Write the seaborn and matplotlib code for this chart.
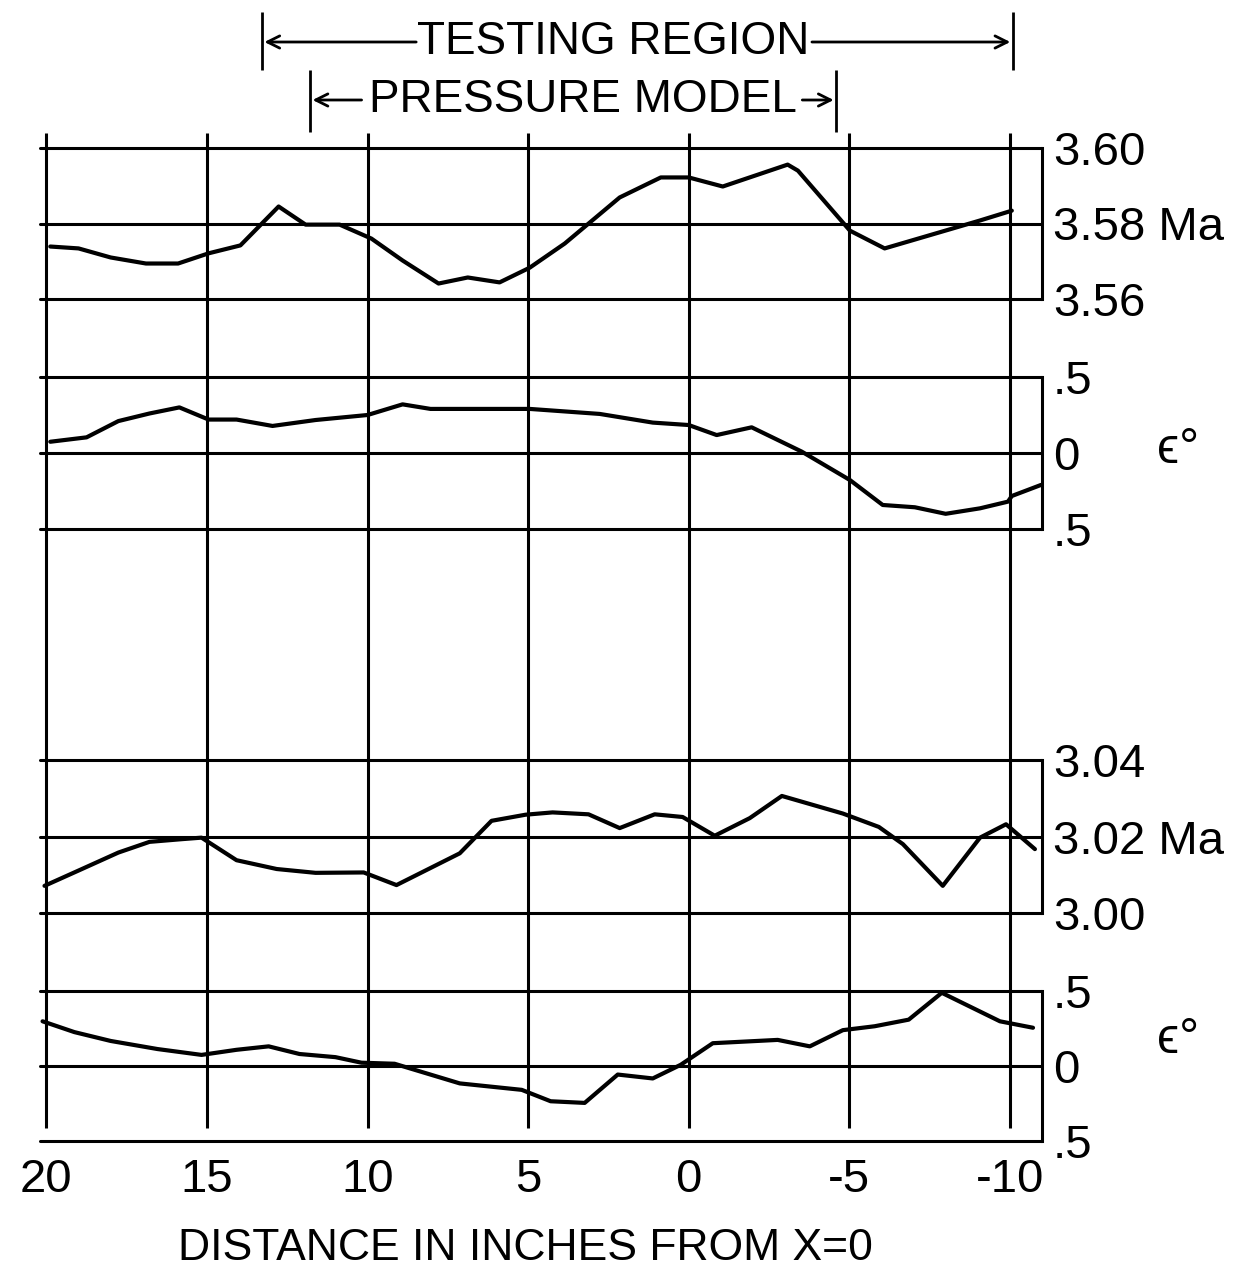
import matplotlib
matplotlib.use("Agg")
import matplotlib.pyplot as plt
import seaborn as sns

# upper run: Mach number vs distance (inches from x=0)
ma_hi_x = [19.88, 19.0, 18.0, 16.9, 15.9, 14.95, 13.96, 12.77, 11.93, 10.87, 9.88, 8.91,
           7.79, 6.88, 5.89, 4.95, 3.86, 2.15, 0.87, 0.0, -1.06, -3.08, -3.4, -5.02,
           -6.1, -9.07, -10.06]
ma_hi = [3.5739, 3.5734, 3.5710, 3.5694, 3.5694, 3.5721, 3.5742, 3.5845, 3.5797, 3.5797,
         3.5760, 3.5702, 3.5641, 3.5657, 3.5644, 3.5683, 3.5747, 3.5869, 3.5922, 3.5922,
         3.5898, 3.5956, 3.5940, 3.5781, 3.5734, 3.5808, 3.5834]

# upper run: flow angle epsilon (deg)
eps_hi_x = [19.88, 18.75, 17.76, 16.79, 15.86, 14.95, 14.08, 12.96, 11.62, 10.0, 8.91,
            8.04, 5.83, 4.95, 2.77, 1.12, 0.0, -0.87, -1.96, -3.52, -5.02, -6.04, -7.04,
            -8.0, -9.07, -9.94, -10.06, -10.97]
eps_hi = [0.074, 0.103, 0.21, 0.26, 0.30, 0.22, 0.22, 0.178, 0.217, 0.25, 0.32, 0.29,
          0.29, 0.29, 0.257, 0.20, 0.184, 0.118, 0.169, 0.009, -0.178, -0.342, -0.357,
          -0.40, -0.364, -0.32, -0.283, -0.21]

# lower run: Mach number
ma_lo_x = [20.06, 19.0, 17.76, 16.79, 15.79, 15.17, 14.08, 12.83, 11.62, 10.12, 9.1, 7.13,
           6.14, 5.08, 4.24, 3.12, 2.15, 1.06, 0.19, -0.81, -1.9, -2.9, -4.8, -5.92,
           -6.67, -7.91, -9.07, -9.88, -10.78]
ma_lo = [3.0071, 3.0111, 3.0158, 3.0186, 3.0193, 3.0197, 3.0138, 3.0115, 3.0105, 3.0106,
         3.0073, 3.0156, 3.0241, 3.0257, 3.0263, 3.0258, 3.0222, 3.0258, 3.0251, 3.0202,
         3.0248, 3.0306, 3.0260, 3.0225, 3.0180, 3.0071, 3.0197, 3.0232, 3.0167]

# lower run: flow angle epsilon (deg)
eps_lo_x = [20.12, 19.13, 18.0, 16.54, 15.17, 14.08, 13.08, 12.12, 11.0, 10.19, 9.16,
            7.13, 5.2, 4.3, 3.24, 2.21, 1.12, 0.25, -0.75, -2.77, -3.77, -4.8, -5.79,
            -6.85, -7.88, -9.69, -10.72]
eps_lo = [0.298, 0.226, 0.167, 0.113, 0.074, 0.108, 0.131, 0.08, 0.059, 0.022, 0.015,
          -0.116, -0.159, -0.235, -0.246, -0.057, -0.083, 0.008, 0.152, 0.174, 0.131,
          0.239, 0.265, 0.309, 0.488, 0.298, 0.255]

dist_ticks = [20, 15, 10, 5, 0, -5, -10]
dist_labels = ["20", "15", "10", "5", "0", "-5", "-10"]
ma_hi_ticks = [3.56, 3.58, 3.60]
ma_hi_labels = ["3.56", "3.58 Ma", "3.60"]
ma_lo_ticks = [3.00, 3.02, 3.04]
ma_lo_labels = ["3.00", "3.02 Ma", "3.04"]
eps_ticks = [-0.5, 0.0, 0.5]
eps_labels = [".5", "0", ".5"]

testing_region = (13.3, -10.1)
pressure_model = (11.8, -4.6)

sns.set_style("white")
plt.rcParams["font.family"] = ["Liberation Sans", "DejaVu Sans"]
plt.rcParams["text.color"] = "black"
plt.rcParams["xtick.color"] = "black"
plt.rcParams["ytick.color"] = "black"
plt.rcParams["axes.labelcolor"] = "black"

W, H = 1234, 1275
fig = plt.figure(figsize=(W / 100, H / 100), dpi=100)
XL = (20.2, -11.0)
left, right = 40, 1042
ax_l, ax_w = left / W, (right - left) / W
LW = 2.2

# background layer: vertical grid + region brackets (y in pixels)
bg = fig.add_axes([ax_l, 0, ax_w, 1])
bg.set_xlim(XL)
bg.set_ylim(H, 0)
bg.axis("off")
bg.vlines(dist_ticks, 133, 1128, color="black", lw=LW)

arrow = dict(arrowstyle="->", lw=2, color="black", mutation_scale=22)
bg.vlines(testing_region, 12, 70, color="black", lw=2)
bg.annotate("", xy=(testing_region[0], 42), xytext=(8.4, 42), arrowprops=arrow)
bg.annotate("", xy=(testing_region[1], 42), xytext=(-3.75, 42), arrowprops=arrow)
bg.text(2.35, 42, "TESTING REGION", fontsize=33, ha="center", va="center")
bg.vlines(pressure_model, 70, 132, color="black", lw=2)
bg.annotate("", xy=(pressure_model[0], 100), xytext=(10.1, 100), arrowprops=arrow)
bg.annotate("", xy=(pressure_model[1], 100), xytext=(-3.45, 100), arrowprops=arrow)
bg.text(3.3, 100, "PRESSURE MODEL", fontsize=33, ha="center", va="center")

panels = [
    (148, 299, ma_hi_x, ma_hi, ma_hi_ticks, ma_hi_labels),
    (377, 529, eps_hi_x, eps_hi, eps_ticks, eps_labels),
    (760, 913, ma_lo_x, ma_lo, ma_lo_ticks, ma_lo_labels),
    (991, 1141, eps_lo_x, eps_lo, eps_ticks, eps_labels),
]

axes = []
for top, bot, xs, ys, ticks, labels in panels:
    ax = fig.add_axes([ax_l, 1 - bot / H, ax_w, (bot - top) / H])
    ax.patch.set_alpha(0)
    sns.lineplot(x=xs, y=ys, ax=ax, color="black", lw=3, sort=False)
    ax.set_xlim(XL)
    ax.set_ylim(ticks[0], ticks[-1])
    ax.yaxis.tick_right()
    ax.set_yticks(ticks)
    ax.set_yticklabels(labels)
    ax.tick_params(axis="y", length=0, pad=8, labelsize=34)
    ax.grid(axis="y", color="black", lw=LW)
    ax.grid(axis="x", visible=False)
    for gl in ax.get_ygridlines():
        gl.set_clip_on(False)
    for side in ["top", "left", "bottom"]:
        ax.spines[side].set_visible(False)
    ax.spines["right"].set_color("black")
    ax.spines["right"].set_linewidth(LW)
    ax.set_xticks([])
    axes.append(ax)

ax4 = axes[-1]
ax4.set_xticks(dist_ticks)
ax4.set_xticklabels(dist_labels)
ax4.tick_params(axis="x", length=0, pad=12, labelsize=34)
ax4.set_xlabel("DISTANCE IN INCHES FROM X=0", fontsize=32)
ax4.xaxis.set_label_coords((525 - left) / (right - left), -0.58)

fig.text(1178 / W, 1 - 450 / H, "ϵ°", fontsize=36, ha="center", va="center")
fig.text(1178 / W, 1 - 1040 / H, "ϵ°", fontsize=36, ha="center", va="center")

fig.savefig("out.png", dpi=100, facecolor="white")
